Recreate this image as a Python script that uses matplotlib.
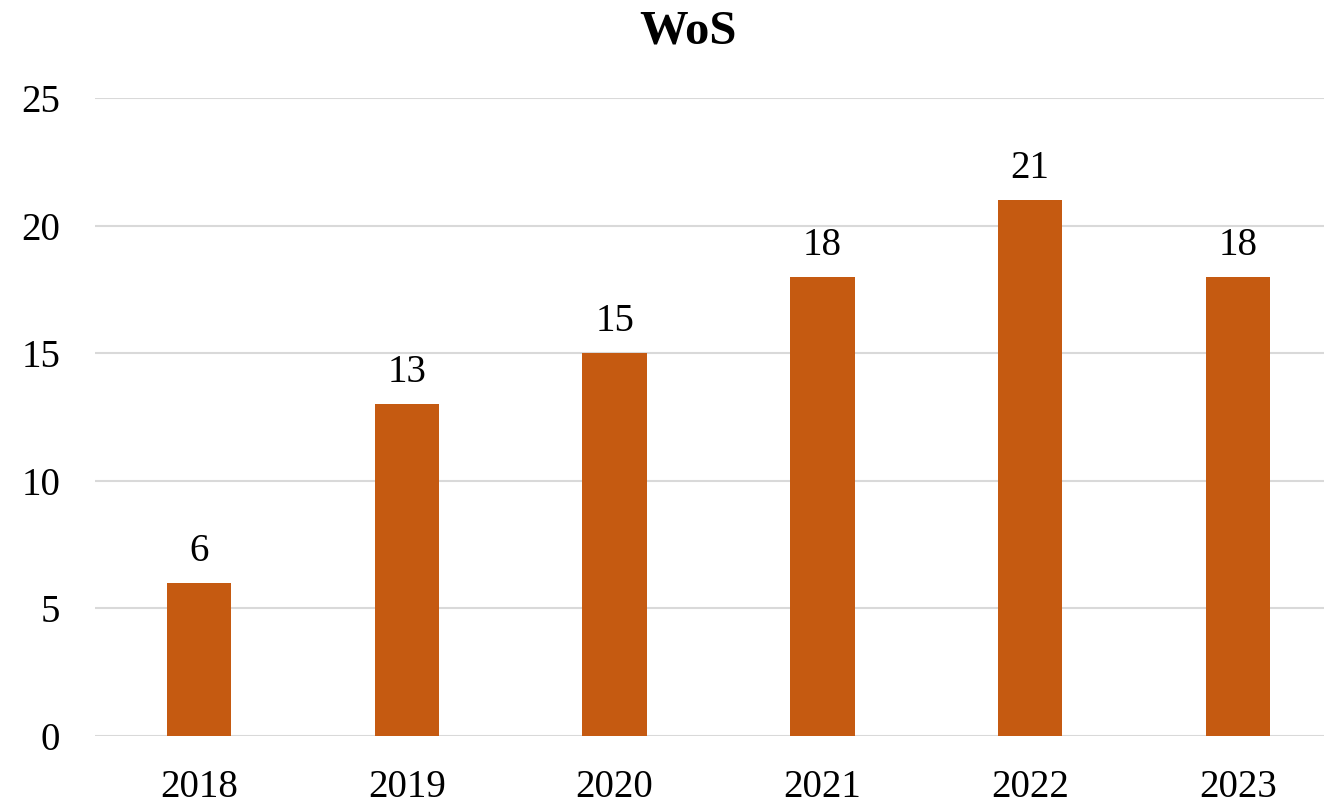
import matplotlib.pyplot as plt
import numpy as np

# данные
years = ["2018", "2019", "2020", "2021", "2022", "2023"]
counts = [6, 13, 15, 18, 21, 18]
yticks = [0, 5, 10, 15, 20, 25]

plt.rcParams['font.family'] = ['Liberation Serif', 'DejaVu Serif']

W, H = 1324, 805
fig = plt.figure(figsize=(W / 100, H / 100), dpi=100)
ax = fig.add_axes([95 / W, 69 / H, 1247 / W, 638 / H])

x = np.arange(len(years))
bars = ax.bar(x, counts, width=0.31, color='#C55A11', zorder=3)
for xi, v in zip(x, counts):
    ax.text(xi, v + 0.5, str(v), ha='center', va='bottom', fontsize=28)

ax.set_xlim(-0.5, 5.5)
ax.set_ylim(0, 25)
ax.set_yticks(yticks)
ax.set_xticks(x)
ax.set_xticklabels(years)
ax.tick_params(axis='both', length=0, labelsize=28)
ax.tick_params(axis='y', pad=25)
ax.tick_params(axis='x', pad=24)
ax.grid(axis='y', color='#D9D9D9', lw=1.5, zorder=0)
for s in ax.spines.values():
    s.set_visible(False)

fig.text(688 / W, 1 - 31 / H, "WoS", ha='center', va='center',
         fontsize=35, fontweight='bold')

fig.savefig("out.png", dpi=100)
